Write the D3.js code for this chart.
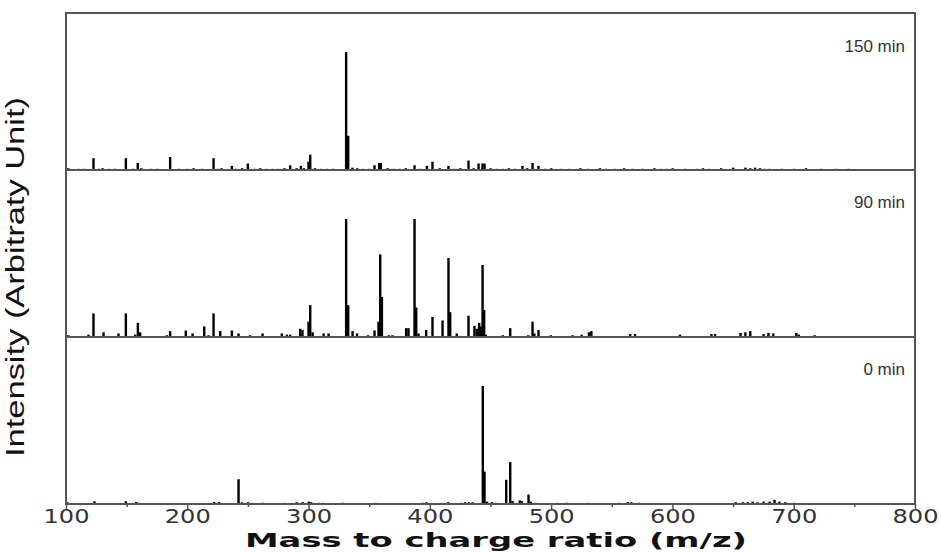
<!DOCTYPE html>
<html>
<head>
<meta charset="utf-8">
<script src="https://cdn.jsdelivr.net/npm/d3@7"></script>
<style>
  html, body { margin: 0; padding: 0; background: #fff; }
  svg { display: block; }
</style>
</head>
<body>
<svg id="chart" width="941" height="553"></svg>
<script>
// ---- Data (m/z, relative intensity %) ----
const panelLabels = ["150 min", "90 min", "0 min"];
const xTickValues = [100, 200, 300, 400, 500, 600, 700, 800];
const xMinorTickValues = [150, 250, 350, 450, 550, 650, 750];

const mz150 = [101,110,115,122.5,127,130,135,140,149.2,155,159,162,170,175,185.7,193,200,205,212,221.5,225,228,236.6,240,245,249.8,255,260,265,270,275,280,284.7,290,293.5,296,299.8,301.2,305,310,315,320,330.8,332.5,336,340,345,350,354.2,358,359.4,365,370,375,380,387.2,392,397.4,402,408,415.2,420,425,431.7,436,440,443.2,444.9,450,455,460,465,470,476.2,480,484.5,489.4,495,500,508,515,524,530,540,545,552,560,567,575,585,590,595,600,610,620,625,630,640,650,660,664,668,672,676,680,690,700,710,722,735,745,760,770,780,790];
const int150 = [1.5,1,1,10,1,1.5,1,1,10,1,6,1.5,1,1,11,1,1,1.5,1,10,1,1.5,3.5,1,1.5,5.5,1,1.5,1,1,1,1.5,4,1.5,3.5,1.5,7,13,1.5,1,1,1,100,29,2,1.5,1,1,4,6,6,1.5,1,1,1.5,4,1,3.5,7,1.5,3.5,1,1.5,8,1.5,5.5,5.5,5.5,1.5,1,1,1.5,1,3.5,1.5,6,3.5,1,1.5,1,1,1.5,1,1.5,1,1,1.5,1,1,1.5,1,1,1.5,1,1,1.5,1,1.5,2,2,1.5,2,1.5,1,1,1,1,1.5,1,1,1];

const mz90 = [101,118.4,122.5,130.8,143.1,149.2,157,159.1,161,183,185.7,198.6,204.2,213.8,217.4,221.5,227,236.6,242.1,251.6,261.9,277.8,282,284.7,292.9,294.8,299.8,301.2,303.2,312.2,316.3,330.8,332.5,336.1,339.8,348.8,354.2,357.5,358.9,360.3,366,369,380.3,382.2,387.2,388.6,390.5,396.8,402,410.3,415.2,416.6,422,431.7,436.6,438.6,440.5,441.9,443.3,444.6,446,460,466.1,481,484.5,486,489.4,499.6,517.5,525,531,533,565,569,606,632,635,656,660,664,675,679,683,702,704,717];
const int90 = [1.5,2,20,4,3,20,2,12,4,1.5,5,5.5,3,9,1.5,20,5,5.5,3,1.5,3,3,2,2,7,6,13,27,4,3,3,100,27,5,3,1.5,5.5,13,70,34,1.5,1.5,7.5,7.5,100,25,3,6,17,14,67,21,3,18,9.5,7,12,9,61,23,2,1.5,7.5,1.5,13,3,6,1.5,1.5,2,4,5,2.5,2.5,2,2.5,2.5,3.5,4,5,2.5,3.5,3,3.5,2,1.5];

const mz0 = [101,123.3,149.2,157.7,160,222,226,242.1,245,250,253,262,280,290,295,300,302,308,312,328,355,394,397,415,426,429,432,435,443.5,444.9,447,451,454,462.8,466.1,468,474,475.5,481.2,483,487,505,513,530,556,563,566,572,652,658,662,666,670,675,680,684,688,693,700];
const int0 = [1.5,2.3,2.3,1.7,1,1.7,1.7,21,1.5,1.5,1,1,1,1.5,1.5,2,1.5,1,1,1,1,1,1.5,1.5,1,1.5,1.5,1.5,100,27.5,2,1.5,1,20.5,35.5,2.5,3,2.5,8,2,1,1,1,1,1,1.5,1.5,1,1.5,1.5,1.5,2,1.5,2,2,3.5,2,1.5,1];

const seriesMz = [mz150, mz90, mz0];
const seriesInt = [int150, int90, int0];

// ---- Layout ----
const svg = d3.select("#chart");
const L = 66, R = 915, T = 13, B = 504;
const baselines = [170, 337, 504];
const panelTops = [13, 170, 337];

const x = d3.scaleLinear().domain([100, 800]).range([L, R]);
const h = d3.scaleLinear().domain([0, 100]).range([0, 118]);

// Bars
seriesMz.forEach((mzs, i) => {
  const data = mzs.map((m, j) => ({ mz: m, v: seriesInt[i][j] }));
  const y = d3.scaleLinear().domain([0, 100]).range([baselines[i], baselines[i] - h(100)]);
  svg.append("g")
    .selectAll("rect")
    .data(data)
    .join("rect")
    .attr("x", d => x(d.mz) - 1)
    .attr("width", 2.4)
    .attr("y", d => y(d.v))
    .attr("height", d => baselines[i] - y(d.v))
    .attr("fill", "#000");
});

// Frame
const frameColor = "#555";
svg.append("rect")
  .attr("x", L).attr("y", T)
  .attr("width", R - L).attr("height", B - T)
  .attr("fill", "none").attr("stroke", frameColor).attr("stroke-width", 2);

// Dividers
svg.append("g").selectAll("line")
  .data(baselines.slice(0, 2))
  .join("line")
  .attr("x1", L).attr("x2", R)
  .attr("y1", d => d).attr("y2", d => d)
  .attr("stroke", frameColor).attr("stroke-width", 2);

// Left inward ticks at dividers
svg.append("g").selectAll("line")
  .data(baselines.slice(0, 2))
  .join("line")
  .attr("x1", L).attr("x2", L + 4)
  .attr("y1", d => d - 1).attr("y2", d => d - 1)
  .attr("stroke", frameColor).attr("stroke-width", 1.5);

// X axis
const xAxis = d3.axisBottom(x)
  .tickValues(xTickValues)
  .tickSize(5)
  .tickPadding(1)
  .tickFormat(d3.format("d"));
const gx = svg.append("g").attr("transform", `translate(0,${B})`).call(xAxis);
gx.select(".domain").remove();
gx.selectAll(".tick line").attr("stroke", frameColor).attr("stroke-width", 1.5);
gx.selectAll(".tick text")
  .attr("font-family", "'DejaVu Sans', sans-serif")
  .attr("font-size", 19)
  .attr("textLength", 46)
  .attr("lengthAdjust", "spacingAndGlyphs")
  .attr("fill", "#333");

const xMinor = d3.axisBottom(x).tickValues(xMinorTickValues).tickSize(3).tickFormat("");
const gxm = svg.append("g").attr("transform", `translate(0,${B})`).call(xMinor);
gxm.select(".domain").remove();
gxm.selectAll(".tick line").attr("stroke", frameColor).attr("stroke-width", 1.5);

// Panel labels
svg.append("g").selectAll("text")
  .data(panelLabels)
  .join("text")
  .attr("x", 905)
  .attr("y", (d, i) => panelTops[i] + (i === 0 ? 39 : 38))
  .attr("text-anchor", "end")
  .attr("font-family", "'Liberation Sans', Arial, sans-serif")
  .attr("font-size", 17)
  .attr("fill", "#333")
  .text(d => d);

// Axis titles
svg.append("text")
  .attr("x", 496).attr("y", 547)
  .attr("text-anchor", "middle")
  .attr("font-family", "'DejaVu Sans', sans-serif")
  .attr("font-weight", "bold")
  .attr("font-size", 20)
  .attr("textLength", 502)
  .attr("lengthAdjust", "spacingAndGlyphs")
  .attr("fill", "#111")
  .text("Mass to charge ratio (m/z)");

svg.append("text")
  .attr("transform", "translate(24,277) rotate(-90)")
  .attr("text-anchor", "middle")
  .attr("font-family", "'Liberation Sans', Arial, sans-serif")
  .attr("font-size", 25)
  .attr("textLength", 360)
  .attr("lengthAdjust", "spacingAndGlyphs")
  .attr("fill", "#111")
  .text("Intensity (Arbitraty Unit)");
</script>
</body>
</html>
